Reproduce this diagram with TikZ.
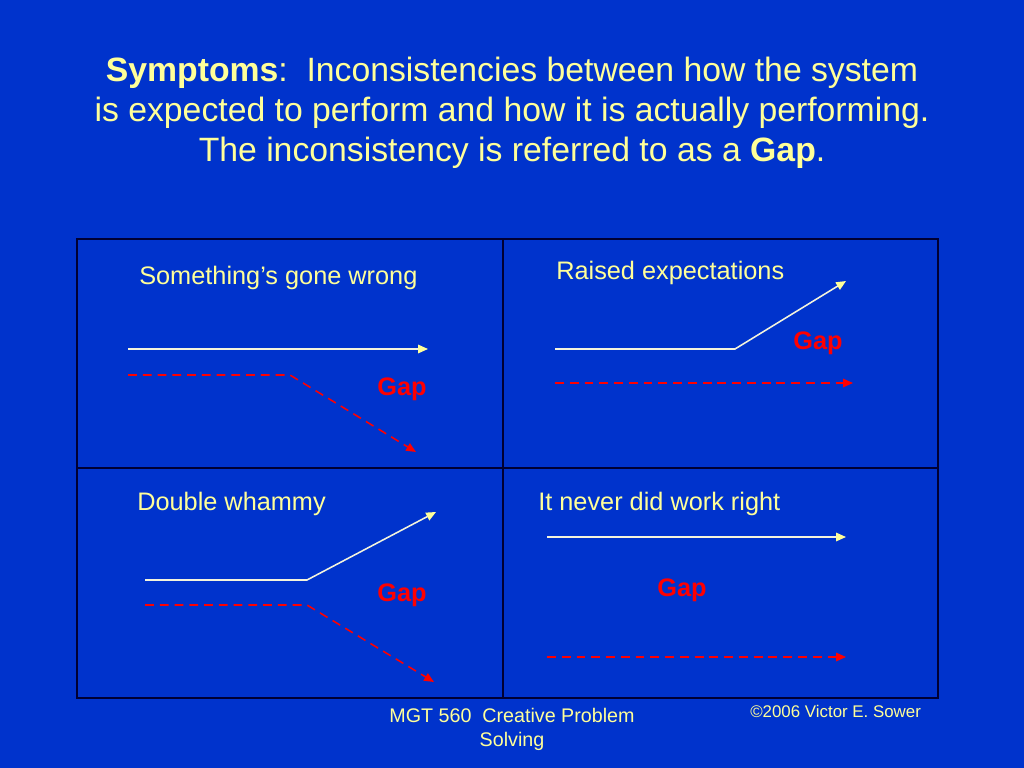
\documentclass[tikz,border=0pt]{standalone}
\usepackage{fontspec}
\setmainfont{Liberation Sans}
\usetikzlibrary{arrows.meta, positioning}
\definecolor{sbg}{HTML}{0033CC}
\definecolor{syel}{HTML}{FFFF99}
\definecolor{sred}{HTML}{FF0000}
\definecolor{sline}{HTML}{F4F4DC}
\definecolor{sgrid}{HTML}{000033}
\tikzstyle{headline} = [text=syel, font=\fontsize{24}{28.5}\selectfont, align=center]
\tikzstyle{quadtext} = [text=syel, font=\fontsize{18}{21}\selectfont, anchor=west, inner sep=0pt]
\tikzstyle{gap} = [text=sred, font=\bfseries\fontsize{18}{21}\selectfont, inner sep=0pt]
\tikzstyle{footer} = [text=syel, font=\fontsize{14}{17}\selectfont, align=center, inner sep=0pt]
\tikzstyle{grid} = [draw=sgrid, line width=0.8pt]
\tikzstyle{expected} = [line width=1.1pt, -{Triangle[length=7pt, width=6pt, color=syel]}, draw=sline]
\tikzstyle{actual} = [line width=1.1pt, -{Triangle[length=7pt, width=6pt]}, draw=sred, dash pattern=on 6.3pt off 4.2pt]

\begin{document}
\begin{tikzpicture}[x=0.025cm, y=-0.025cm]
  \fill [sbg] (0,0) rectangle (1024,768);
  \useasboundingbox (0,0) rectangle (1024,768);
  \node (title) [headline] at (512,113) {\textbf{Symptoms}:\ \ Inconsistencies between how the system\\ is expected to perform and how it is actually performing.\\ The inconsistency is referred to as a \textbf{Gap}.};
  % the four boxes
  \draw [grid] (77,239) rectangle (938,698);
  \draw [grid] (503,239) -- (503,698);
  \draw [grid] (77,468) -- (938,468);
  % something's gone wrong
  \node (wrong) [quadtext] at (139,278) {Something’s gone wrong};
  \coordinate (w1) at (128,349);
  \coordinate (w2) at (428,349);
  \coordinate (w3) at (128,375);
  \coordinate (w4) at (290,375);
  \coordinate (w5) at (416,452);
  \draw [expected] (w1) -- (w2);
  \draw [actual] (w3) -- (w4) -- (w5);
  \node (gapw) [gap] at (402,389) {Gap};
  % raised expectations
  \node (raised) [quadtext] at (556,273) {Raised expectations};
  \coordinate (r1) at (555,349);
  \coordinate (r2) at (735,349);
  \coordinate (r3) at (846,281);
  \coordinate (r4) at (555,383);
  \coordinate (r5) at (853,383);
  \draw [expected] (r1) -- (r2) -- (r3);
  \draw [actual] (r4) -- (r5);
  \node (gapr) [gap] at (818,343) {Gap};
  % double whammy
  \node (double) [quadtext] at (137,504) {Double whammy};
  \coordinate (d1) at (145,580);
  \coordinate (d2) at (307,580);
  \coordinate (d3) at (436,512);
  \coordinate (d4) at (145,605);
  \coordinate (d5) at (307,605);
  \coordinate (d6) at (434,682);
  \draw [expected] (d1) -- (d2) -- (d3);
  \draw [actual] (d4) -- (d5) -- (d6);
  \node (gapd) [gap] at (402,595) {Gap};
  % never did work right
  \node (never) [quadtext] at (538,504) {It never did work right};
  \coordinate (n1) at (547,537);
  \coordinate (n2) at (846,537);
  \coordinate (n3) at (547,657);
  \coordinate (n4) at (846,657);
  \draw [expected] (n1) -- (n2);
  \draw [actual] (n3) -- (n4);
  \node (gapn) [gap] at (682,590) {Gap};
  % footer
  \node (course) [footer] at (512,729) {MGT 560\ \ Creative Problem\\ Solving};
  \node (copy) [footer, anchor=west, font=\fontsize{12}{14}\selectfont] at (750,711) {©2006 Victor E. Sower};
\end{tikzpicture}
\end{document}
